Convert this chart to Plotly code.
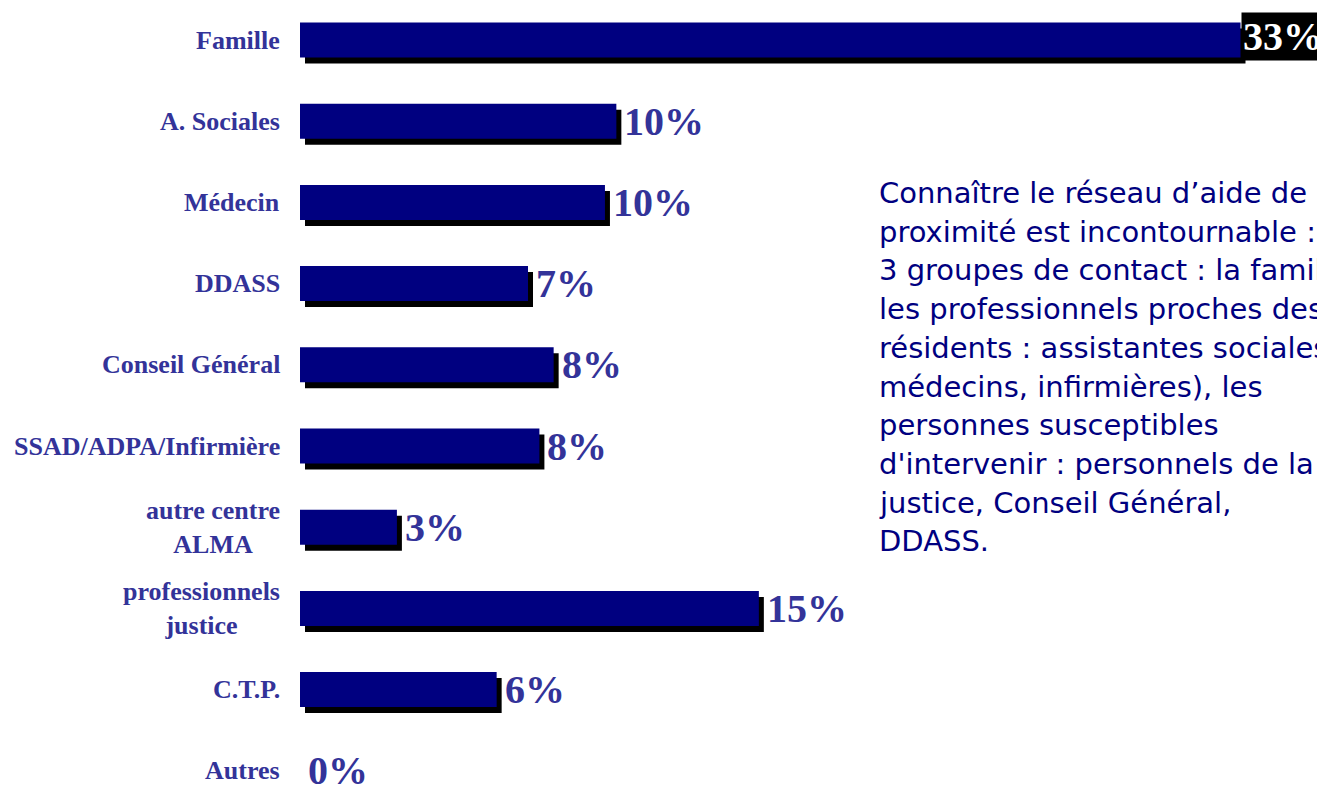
import plotly.graph_objects as go

CATEGORIES = [
    "Famille", "A. Sociales", "Médecin", "DDASS", "Conseil Général",
    "SSAD/ADPA/Infirmière", "autre centre<br>ALMA", "professionnels<br>justice",
    "C.T.P.", "Autres",
]
# bar lengths (percent)
VALUES = [33.0, 11.1, 10.7, 8.0, 8.9, 8.4, 3.4, 16.1, 6.9, 0.0]
# value labels as printed on the chart
VALUE_LABELS = ["33%", "10%", "10%", "7%", "8%", "8%", "3%", "15%", "6%", "0%"]

NOTE_LINES = [
    "Connaître le réseau d\u2019aide de",
    "proximité est incontournable :",
    "3 groupes de contact : la famille,",
    "les professionnels proches des",
    "résidents : assistantes sociales,",
    "médecins, infirmières), les",
    "personnes susceptibles",
    "d'intervenir : personnels de la",
    "justice, Conseil Général,",
    "DDASS.",
]

NAVY = "#000080"
LABEL_COLOR = "#333399"
SERIF = "Liberation Serif, Times New Roman, serif"

# the page body adds an 8px margin, so the figure is 8px smaller than the window
W, H = 1317, 777
LEFT = 292
PX_PER_UNIT = 28.5          # x: pixels per percent
ROW_PX = 81.2               # y: pixels per category
FIRST_ROW = 32              # centre of the first row, px from the top
BAR_W = 35 / ROW_PX
SHADOW_DX = 5 / PX_PER_UNIT
SHADOW_DY = 6 / ROW_PX

fig = go.Figure()

# drop shadow behind each bar
fig.add_trace(go.Bar(
    y=CATEGORIES, x=VALUES, base=SHADOW_DX, orientation="h",
    width=BAR_W, offset=-BAR_W / 2 + SHADOW_DY,
    marker=dict(color="black", line=dict(width=0)),
    hoverinfo="skip", showlegend=False,
))
fig.add_trace(go.Bar(
    y=CATEGORIES, x=VALUES, orientation="h",
    width=BAR_W, offset=-BAR_W / 2,
    marker=dict(color=NAVY, line=dict(width=0)),
    showlegend=False,
))

annotations = []
for i, (cat, val, lab) in enumerate(zip(CATEGORIES, VALUES, VALUE_LABELS)):
    annotations.append(dict(
        x=0, xref="paper", y=cat, yref="y", xanchor="right", xshift=-18,
        text=f"<b>{cat}</b>", showarrow=False, align="center",
        font=dict(family=SERIF, size=26, color=LABEL_COLOR),
    ))
    top = i == 0
    annotations.append(dict(
        x=val + SHADOW_DX, xref="x", y=cat, yref="y",
        xanchor="left", xshift=-5 if top else 1, yshift=4 if top else 0,
        text=f"<b>{lab}</b>", showarrow=False,
        bgcolor="black" if top else None, borderpad=1,
        font=dict(family=SERIF, size=40, color="white" if top else LABEL_COLOR),
    ))

plot_w = W - LEFT
for k, line in enumerate(NOTE_LINES):
    py = 185 + k * 38.7
    annotations.append(dict(
        x=(869 - LEFT) / plot_w, xref="paper", y=1 - py / H, yref="paper",
        xanchor="left", yanchor="middle", text=line, showarrow=False,
        font=dict(family="Comic Sans MS, DejaVu Sans, sans-serif", size=29, color=NAVY),
    ))

fig.update_layout(
    width=W, height=H,
    margin=dict(l=LEFT, r=0, t=0, b=0),
    paper_bgcolor="white", plot_bgcolor="white",
    barmode="overlay",
    xaxis=dict(range=[0, plot_w / PX_PER_UNIT], visible=False, fixedrange=True),
    yaxis=dict(
        type="category", categoryorder="array", categoryarray=CATEGORIES,
        range=[9 + (H - FIRST_ROW - 9 * ROW_PX) / ROW_PX, -FIRST_ROW / ROW_PX],
        showticklabels=False, showgrid=False, zeroline=False, fixedrange=True,
    ),
    annotations=annotations,
)

fig.write_html("out.html")
